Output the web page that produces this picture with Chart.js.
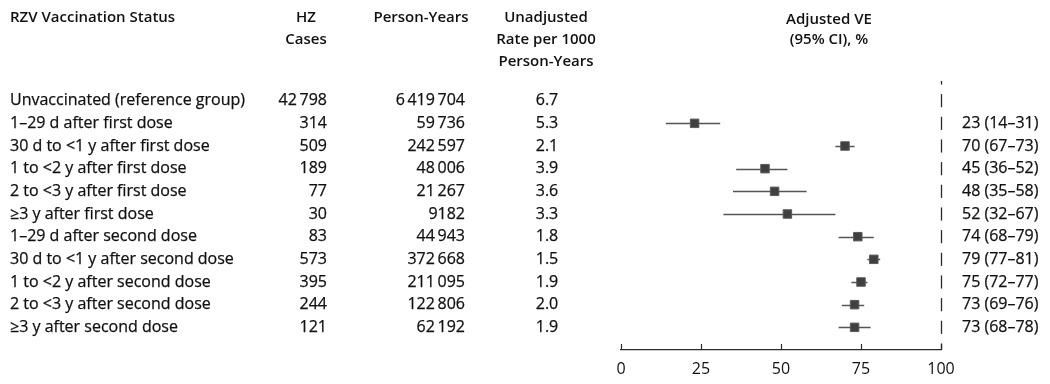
<!DOCTYPE html>
<html>
<head>
<meta charset="utf-8">
<script src="https://cdn.jsdelivr.net/npm/chart.js@4.4.0/dist/chart.umd.min.js"></script>
<style>
  html, body { margin: 0; padding: 0; background: #ffffff; }
  #wrap { width: 1050px; height: 384px; position: relative; }
</style>
</head>
<body>
<div id="wrap"><canvas id="c" width="1050" height="384"></canvas></div>
<script>
// ---------- DATA ----------
const groups = [
  "Unvaccinated (reference group)",
  "1\u201329 d after first dose",
  "30 d to <1 y after first dose",
  "1 to <2 y after first dose",
  "2 to <3 y after first dose",
  "\u22653 y after first dose",
  "1\u201329 d after second dose",
  "30 d to <1 y after second dose",
  "1 to <2 y after second dose",
  "2 to <3 y after second dose",
  "\u22653 y after second dose"
];
const hzCases = [42798, 314, 509, 189, 77, 30, 83, 573, 395, 244, 121];
const personYears = [6419704, 59736, 242597, 48006, 21267, 9182, 44943, 372668, 211095, 122806, 62192];
const ratePer1000 = [6.7, 5.3, 2.1, 3.9, 3.6, 3.3, 1.8, 1.5, 1.9, 2.0, 1.9];
const veEstimate = [null, 23, 70, 45, 48, 52, 74, 79, 75, 73, 73];
const veLower    = [null, 14, 67, 36, 35, 32, 68, 77, 72, 69, 68];
const veUpper    = [null, 31, 73, 52, 58, 67, 79, 81, 77, 76, 78];
const xTicks = [0, 25, 50, 75, 100];
const referenceVE = 100;

// ---------- STYLE ----------
const FONT = "'Open Sans', 'Noto Sans', sans-serif";
const TEXT = "#111111";
const SIZE = 16;
const HSIZE = 15;

function fmtNum(n) {
  if (n < 10000) return String(n);
  return String(n).replace(/\B(?=(\d{3})+(?!\d))/g, "\u2009");
}

const points = [];
groups.forEach((g, i) => { if (veEstimate[i] !== null) points.push({ x: veEstimate[i], y: i }); });

function txt(ctx, s, x, y) {
  ctx.fillText(s, x, y);
  ctx.strokeText(s, x, y);
}

const forestPlugin = {
  id: 'forest',
  beforeDatasetsDraw(chart) {
    const ctx = chart.ctx, xs = chart.scales.x, ys = chart.scales.y;
    const axisY = chart.chartArea.bottom;
    ctx.save();
    // dashed reference line at 100
    ctx.strokeStyle = "#2a2a2a";
    ctx.lineWidth = 1.3;
    const rx = Math.round(xs.getPixelForValue(referenceVE)) + 0.5;
    const topLimit = ys.getPixelForValue(-0.87);
    const half = (ys.getPixelForValue(1) - ys.getPixelForValue(0)) * 0.29;
    for (let i = -1; i <= groups.length; i++) {
      const cy = ys.getPixelForValue(i);
      let a = Math.max(cy - half, topLimit), b = Math.min(cy + half, axisY);
      if (b > a) { ctx.beginPath(); ctx.moveTo(rx, a); ctx.lineTo(rx, b); ctx.stroke(); }
    }
    // CI lines
    ctx.strokeStyle = "#555555";
    ctx.lineWidth = 1.5;
    groups.forEach((g, i) => {
      if (veLower[i] === null) return;
      const y = Math.round(ys.getPixelForValue(i)) + 0.5;
      ctx.beginPath();
      ctx.moveTo(xs.getPixelForValue(veLower[i]), y);
      ctx.lineTo(xs.getPixelForValue(veUpper[i]), y);
      ctx.stroke();
    });
    // tick marks (pointing up)
    ctx.strokeStyle = "#2a2a2a";
    ctx.lineWidth = 1.2;
    xTicks.forEach(t => {
      const x = Math.round(xs.getPixelForValue(t)) + 0.5;
      ctx.beginPath(); ctx.moveTo(x, axisY); ctx.lineTo(x, axisY - 6); ctx.stroke();
    });
    ctx.restore();
  },
  afterDraw(chart) {
    const ctx = chart.ctx, ys = chart.scales.y;
    ctx.save();
    ctx.fillStyle = TEXT;
    ctx.strokeStyle = TEXT;
    ctx.lineWidth = 0.25;
    // headers
    ctx.font = "600 " + HSIZE + "px " + FONT;
    ctx.textBaseline = "middle";
    ctx.textAlign = "left";
    ctx.fillText("RZV Vaccination Status", 10, 18);
    ctx.textAlign = "center";
    ctx.fillText("HZ", 306, 18);
    ctx.fillText("Cases", 306, 40);
    ctx.fillText("Person-Years", 421, 18);
    ctx.fillText("Unadjusted", 546, 18);
    ctx.fillText("Rate per 1000", 546, 40);
    ctx.fillText("Person-Years", 546, 62);
    ctx.fillText("Adjusted VE", 829, 20);
    ctx.fillText("(95% CI), %", 829, 40);
    // rows
    ctx.font = "400 " + SIZE + "px " + FONT;
    groups.forEach((g, i) => {
      const y = ys.getPixelForValue(i);
      ctx.textAlign = "left";
      txt(ctx, g, 10, y);
      ctx.textAlign = "right";
      txt(ctx, fmtNum(hzCases[i]), 327, y);
      txt(ctx, fmtNum(personYears[i]), 465, y);
      ctx.textAlign = "center";
      txt(ctx, ratePer1000[i].toFixed(1), 547, y);
      if (veEstimate[i] !== null) {
        ctx.textAlign = "left";
        txt(ctx, veEstimate[i] + " (" + veLower[i] + "\u2013" + veUpper[i] + ")", 962, y);
      }
    });
    ctx.restore();
  }
};

new Chart(document.getElementById('c'), {
  type: 'scatter',
  data: {
    datasets: [{
      data: points,
      pointStyle: 'rect',
      pointRadius: 6,
      pointHoverRadius: 6,
      backgroundColor: '#404040',
      borderColor: '#5a5a5a',
      borderWidth: 1
    }]
  },
  options: {
    responsive: false,
    animation: false,
    events: [],
    layout: { padding: { left: 621, right: 109, top: 78, bottom: 0 } },
    plugins: { legend: { display: false }, tooltip: { enabled: false } },
    scales: {
      x: {
        type: 'linear', min: 0, max: 100,
        afterBuildTicks: (s) => { s.ticks = xTicks.map(v => ({ value: v })); },
        afterFit: (s) => { s.height = 34; },
        grid: { display: false, drawTicks: false },
        border: { display: true, color: '#2a2a2a', width: 1.2 },
        ticks: { color: TEXT, font: { family: FONT, size: SIZE }, padding: 10, maxRotation: 0 }
      },
      y: {
        type: 'linear', min: -1, max: 11, reverse: true, display: false
      }
    }
  },
  plugins: [forestPlugin]
});
</script>
</body>
</html>
